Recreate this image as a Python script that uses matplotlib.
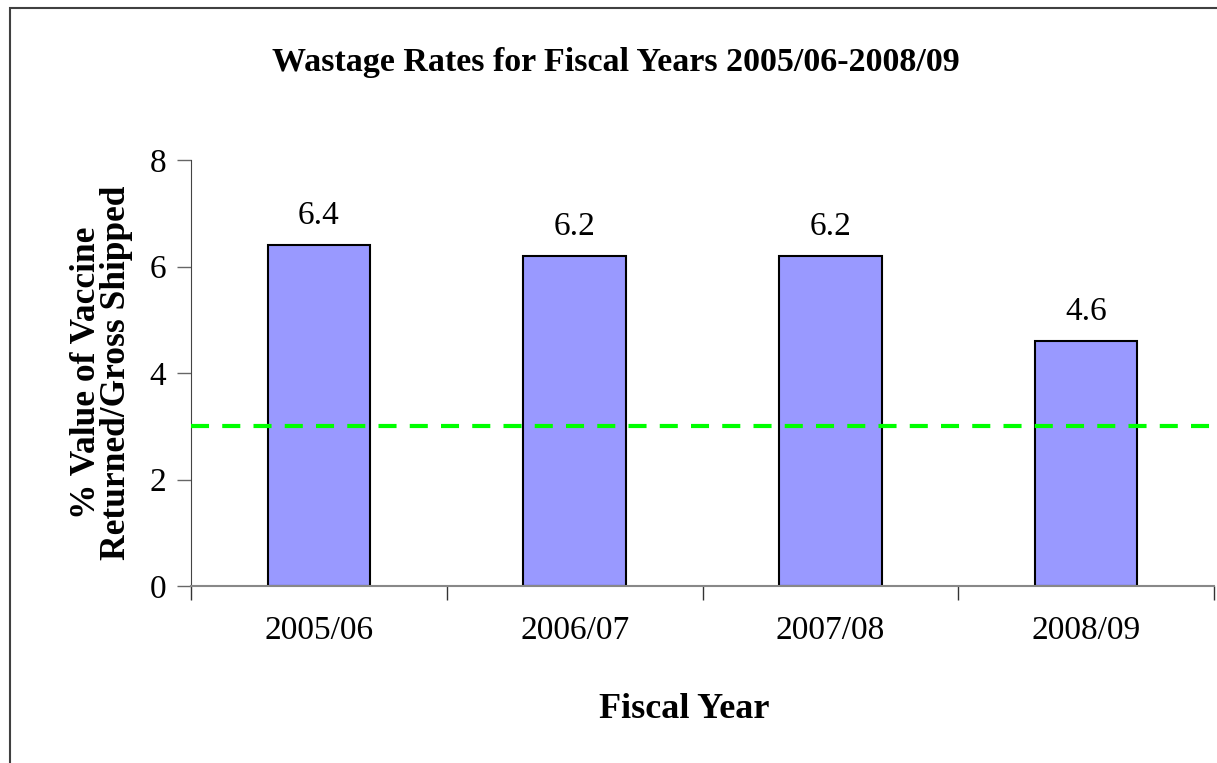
import numpy as np
import matplotlib.pyplot as plt
from matplotlib.patches import Rectangle

years = ['2005/06', '2006/07', '2007/08', '2008/09']
rates = [6.4, 6.2, 6.2, 4.6]
target = 3.0
y_ticks = [0, 2, 4, 6, 8]

plt.rcParams['font.family'] = ['Liberation Serif', 'DejaVu Serif']
plt.rcParams['lines.scale_dashes'] = False

fig = plt.figure(figsize=(12.17, 7.63), dpi=100)
ax = fig.add_axes([191 / 1217, 1 - 586 / 763, (1214 - 191) / 1217, (586 - 160) / 763])

x = np.arange(len(years))
bars = ax.bar(x, rates, width=0.4, color='#9999FF', edgecolor='black', linewidth=1.5, zorder=2)

# target line
ax.axhline(target, color='#00FF00', linewidth=3, dashes=(13, 9.5), zorder=3)

for xi, v in zip(x, rates):
    ax.annotate(f'{v:.1f}', (xi, v), xytext=(0, 10), textcoords='offset points',
                ha='center', va='bottom', fontsize=24)

ax.set_xlim(-0.5, len(years) - 0.5)
ax.set_ylim(0, 8)
ax.set_yticks(y_ticks)
ax.set_xticks(x)
ax.set_xticklabels(years)
ax.set_xticks(np.arange(len(years) + 1) - 0.5, minor=True)
ax.tick_params(axis='x', which='major', length=0, labelsize=24, pad=21)
ax.tick_params(axis='x', which='minor', length=10, direction='out', color='#333333', width=1)
ax.tick_params(axis='y', length=10, direction='out', color='#666666', width=1, labelsize=24, pad=8)

for s in ['top', 'right']:
    ax.spines[s].set_visible(False)
ax.spines['left'].set_color('#444444')
ax.spines['bottom'].set_color('#888888')
ax.spines['bottom'].set_linewidth(1.5)

ax.set_ylabel('% Value of Vaccine\nReturned/Gross Shipped', fontsize=25.5, fontweight='bold',
              labelpad=12, linespacing=0.85)
ax.set_xlabel('Fiscal Year', fontsize=26, fontweight='bold', va='center')
ax.xaxis.set_label_coords((684 - 191) / 1023, (586 - 710) / 426)
fig.text(616 / 1217, 1 - 62 / 763, 'Wastage Rates for Fiscal Years 2005/06-2008/09',
         ha='center', va='center', fontsize=24.5, fontweight='bold')

# outer frame
fig.patches.append(Rectangle((10 / 1217, -0.1), 1.2, 1 - 8 / 763 + 0.1, transform=fig.transFigure,
                             fill=False, edgecolor='#404040', linewidth=1.5))

fig.savefig('out.png', dpi=100)
